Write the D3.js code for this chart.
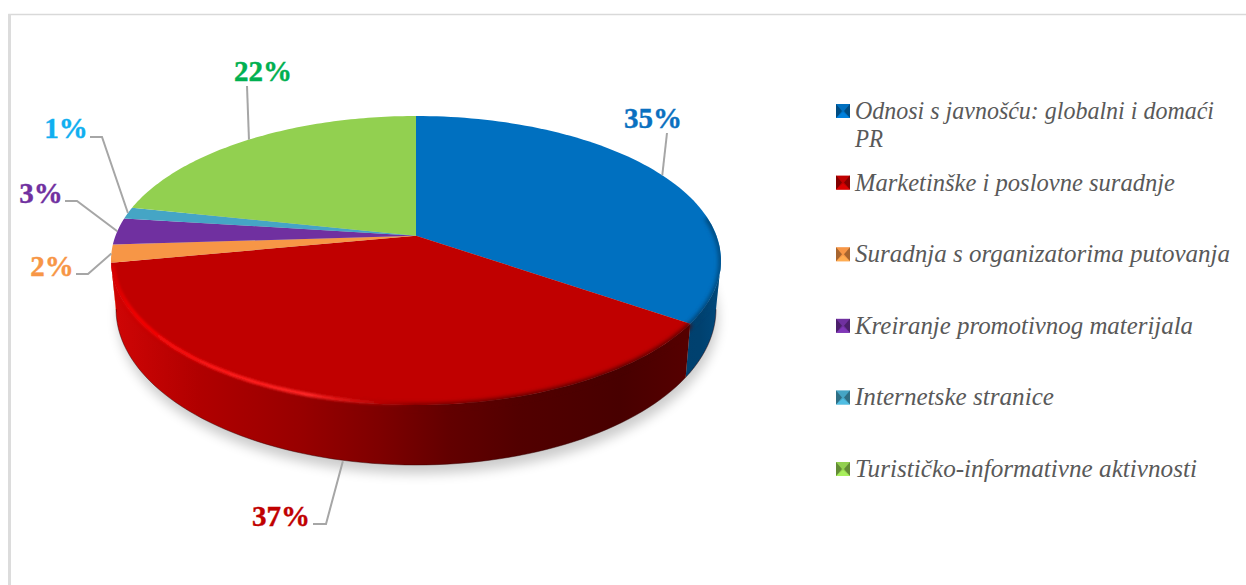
<!DOCTYPE html>
<html><head><meta charset="utf-8">
<script src="https://cdn.jsdelivr.net/npm/d3@7/dist/d3.min.js"></script>
<style>html,body{margin:0;padding:0;background:#fff;overflow:hidden}svg{display:block}</style>
</head><body><svg id="c" width="1246" height="585"></svg>
<script>
const categories = ["Odnosi s javnošću: globalni i domaći PR","Marketinške i poslovne suradnje","Suradnja s organizatorima putovanja","Kreiranje promotivnog materijala","Internetske stranice","Turističko-informativne aktivnosti"];
const values = [34.6,37.4,2.0,3.0,1.3,21.7];
const sliceColors = ["#0070c0","#c00000","#f79646","#7030a0","#45a5c5","#92d050"];
const labelColors = ["#0a70c0","#c00000","#f79646","#7030a0","#10aff0","#00b050"];
const legendLineWidths = [[359,28],[320],[375],[338],[199],[342]];

// layout: label anchor + leader bend (not data)
const labelLayout = [
 {x:653,y:128,a:"middle",path:[[667,133]]},
 {x:281,y:526,a:"middle",rimBottom:true,path:[[326,524],[313,524]]},
 {x:52,y:276,a:"middle",path:[[88,274],[76,274]]},
 {x:41,y:203,a:"middle",path:[[77,201],[65,201]]},
 {x:66,y:138,a:"middle",path:[[102,137],[90,137]]},
 {x:263,y:81,a:"middle",path:[[247,86]]}
];
const topE = {cx:416,cy:260.5,rx:305,ry:144.5,a:-0.172};
const botE = {cx:416,cy:309,rx:300,ry:156,a:-0.172};

const svg = d3.select("#c");
const defs = svg.append("defs");
const blur = (id,s)=>defs.append("filter").attr("id",id).attr("x","-20%").attr("y","-20%").attr("width","140%").attr("height","140%").attr("filterUnits","objectBoundingBox").append("feGaussianBlur").attr("stdDeviation",s);
blur("b6",6); blur("b2",2); blur("b1",1.3);

function grad(id,stops){
  const g=defs.append("linearGradient").attr("id",id).attr("gradientUnits","userSpaceOnUse").attr("x1",110).attr("x2",725).attr("y1",0).attr("y2",0);
  stops.forEach(([x,c,o])=>g.append("stop").attr("offset",(x-110)/615).attr("stop-color",c).attr("stop-opacity",o==null?1:o));
}
grad("wallRed",[[112,"#d00505"],[200,"#b00000"],[300,"#980000"],[380,"#7e0000"],[450,"#620000"],[520,"#520000"],[620,"#480000"],[690,"#560000"]]);
grad("wallBlue",[[675,"#00406e"],[700,"#00416f"],[725,"#004b80"]]);
grad("hiRed",[[112,"#e00000",0.6],[135,"#f20000"],[230,"#ff1a1a"],[310,"#ff2626"],[370,"#e81010",0.5],[415,"#d00000",0]]);

const pie = d3.pie().sort(null).value(d=>d).startAngle(0).endAngle(2*Math.PI);
const arcs = pie(values);

// circle-to-ellipse perspective projection: centre of the pie lands on the apex
function pt(t,E){
  const u=Math.sin(t), v=-Math.cos(t), d=1+E.a*v;
  return [E.cx+E.rx*u*Math.sqrt(1-E.a*E.a)/d, E.cy+E.ry*(v+E.a)/d];
}
const apex=[topE.cx, topE.cy+topE.ry*topE.a];
const line=d3.line();
const arcPts=(a0,a1,E)=>d3.range(0,81).map(i=>pt(a0+(a1-a0)*i/80,E));
const deg=Math.PI/180;

// frame
svg.append("path").attr("d","M9,585V14.5H1246").attr("fill","none").attr("stroke","#d9d9d9").attr("stroke-width",1.5);
svg.append("rect").attr("x",8).attr("y",14).attr("width",3).attr("height",571).attr("fill","#dcdcdc");

// shadow
svg.append("path").attr("d",line(arcPts(0,2*Math.PI,botE))+"Z").attr("transform","translate(2,9)").attr("fill","#000").attr("opacity",0.2).attr("filter","url(#b6)");

// walls
const visA=100*deg, visB=260*deg;
const wallFill={0:"url(#wallBlue)",1:"url(#wallRed)"};
const wallArcs=arcs.map((d,i)=>({i,a0:Math.max(d.startAngle,visA),a1:Math.min(d.endAngle,visB)})).filter(d=>d.a1>d.a0);
const wallD=d=>line([...arcPts(d.a0,d.a1,topE),...arcPts(d.a0,d.a1,botE).reverse()])+"Z";
svg.append("g").selectAll("path").data(wallArcs).join("path")
  .attr("d",wallD).attr("fill",d=>wallFill[d.i]||sliceColors[d.i]);
svg.append("g").selectAll("path").data(wallArcs).join("path")
  .attr("d",d=>line(arcPts(d.a0,d.a1,botE))).attr("fill","none").attr("stroke","#300000").attr("stroke-opacity",.45).attr("stroke-width",1);

// clip to the pie's silhouette so the soft bevel stays inside
const clip=defs.append("clipPath").attr("id","sil");
clip.append("path").attr("d",line(arcPts(0,2*Math.PI,topE))+"Z");
wallArcs.forEach(d=>clip.append("path").attr("d",wallD(d)));

// top faces
svg.append("g").selectAll("path").data(arcs).join("path")
  .attr("d",d=>line([apex,...arcPts(d.startAngle,d.endAngle,topE)])+"Z")
  .attr("fill",(d,i)=>sliceColors[i]);

// soft bevel where face meets the wall
const inner={...topE,rx:topE.rx-2,ry:topE.ry-1};
const bev=svg.append("g").attr("clip-path","url(#sil)");
bev.selectAll("path.b").data(wallArcs).join("path").attr("class","b")
  .attr("d",d=>line(arcPts(d.a0-(d.i==0?18*deg:0),d.a1,{...topE,cy:topE.cy+1})))
  .attr("fill","none").attr("stroke",d=>wallFill[d.i]).attr("stroke-width",5).attr("filter","url(#b2)");
// bright rim on the lit side of the red slice
bev.append("path").attr("d",line(arcPts(170*deg,258*deg,inner)))
  .attr("fill","none").attr("stroke","url(#hiRed)").attr("stroke-width",4).attr("filter","url(#b1)");

// leaders
const mids=arcs.map(d=>(d.startAngle+d.endAngle)/2);
svg.append("g").selectAll("path").data(labelLayout).join("path")
  .attr("d",(d,i)=>line([pt(mids[i],d.rimBottom?{...botE,ry:botE.ry+1}:topE),...d.path]))
  .attr("fill","none").attr("stroke","#a6a6a6").attr("stroke-width",2);

// value labels
svg.append("g").selectAll("text").data(labelLayout).join("text")
  .attr("x",d=>d.x).attr("y",d=>d.y).attr("text-anchor",d=>d.a)
  .attr("fill",(d,i)=>labelColors[i]).attr("stroke",(d,i)=>labelColors[i]).attr("stroke-width",0.4)
  .style("font","bold 29px 'Liberation Serif'")
  .text((d,i)=>Math.round(values[i])+"%");

// legend
const rowY=d3.scaleLinear().domain([0,5]).range([111,469]);
const legend=svg.append("g").selectAll("g").data(categories).join("g")
  .attr("transform",(d,i)=>`translate(843,${rowY(i)})`);
const s=7;
legend.append("rect").attr("x",-s).attr("y",-s).attr("width",2*s).attr("height",2*s).attr("fill",(d,i)=>sliceColors[i]);
const tri=[[[s,-s],[s,s],[1,0]],[[s,s],[-s,s],[0,1]],[[-s,s],[-s,-s],[-1,0]]];
const shade=[c=>d3.color(c).darker(1.1),c=>d3.color(c).brighter(.4),c=>d3.color(c).darker(1.1)];
tri.forEach((t,k)=>legend.append("path").attr("d",line(t)+"Z").attr("fill",(d,i)=>shade[k](sliceColors[i])));
legend.each(function(d,i){
  const g=d3.select(this), probe=g.append("text").style("font","italic 25px 'Liberation Serif'");
  const lines=[]; let cur=[];
  d.split(" ").forEach(w=>{
    probe.text([...cur,w].join(" "));
    if(probe.node().getComputedTextLength()>392&&cur.length){lines.push(cur.join(" "));cur=[w];}
    else cur.push(w);
  });
  lines.push(cur.join(" ")); probe.remove();
  lines.forEach((l,k)=>g.append("text").attr("x",12).attr("y",8+k*27.5)
    .attr("fill","#595959").style("font","italic 25px 'Liberation Serif'")
    .attr("textLength",legendLineWidths[i][k]).attr("lengthAdjust","spacingAndGlyphs").text(l));
});
</script></body></html>
